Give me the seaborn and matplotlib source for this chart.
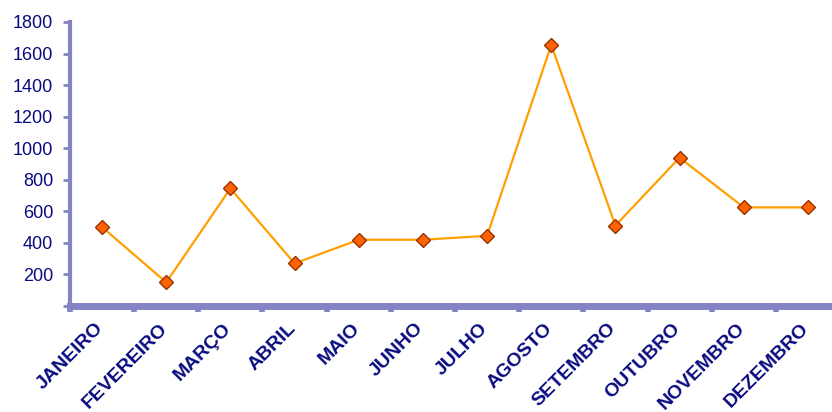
import matplotlib
matplotlib.use("Agg")
import matplotlib.pyplot as plt
import numpy as np
import pandas as pd
import seaborn as sns

MESES = ["JANEIRO", "FEVEREIRO", "MARÇO", "ABRIL", "MAIO", "JUNHO",
         "JULHO", "AGOSTO", "SETEMBRO", "OUTUBRO", "NOVEMBRO", "DEZEMBRO"]
VALORES = [500, 150, 745, 270, 420, 420, 445, 1655, 510, 940, 625, 625]
Y_TICKS = [0, 200, 400, 600, 800, 1000, 1200, 1400, 1600, 1800]

AXIS_COLOR = "#8484c4"
TEXT_COLOR = "#0a0a80"

sns.set_theme(style="white")
plt.rcParams["font.family"] = ["Liberation Sans", "DejaVu Sans"]

data = pd.DataFrame({"pos": np.arange(len(MESES)), "valor": VALORES})

fig = plt.figure(figsize=(8.32, 4.12), dpi=100)
ax = fig.add_axes([70 / 832, 106 / 412, 770 / 832, 284 / 412])

sns.lineplot(
    data=data, x="pos", y="valor", ax=ax,
    color="#ffa000", linewidth=1.6,
    marker="D", markersize=7.5,
    markerfacecolor="#ff6200", markeredgecolor="#993300", markeredgewidth=1.0,
)

ax.set_xlim(-0.5, len(MESES) - 0.5)
ax.set_ylim(0, 1800)
ax.set_xlabel("")
ax.set_ylabel("")

# Y axis
ax.set_yticks(Y_TICKS)
ax.set_yticklabels([""] + [str(v) for v in Y_TICKS[1:]])
ax.tick_params(axis="y", direction="out", length=5, width=2, color=AXIS_COLOR,
               labelcolor=TEXT_COLOR, labelsize=13, pad=7, left=True)

# X axis: ticks at category boundaries, labels at centres
ax.set_xticks(np.arange(-0.5, len(MESES) + 0.5, 1.0))
ax.set_xticklabels([])
ax.set_xticks(np.arange(len(MESES)) - 0.12, minor=True)
ax.set_xticklabels(MESES, minor=True, rotation=45, ha="right",
                   rotation_mode="anchor", fontweight="bold")
ax.tick_params(axis="x", which="major", direction="out", length=4, width=4,
               color=AXIS_COLOR, bottom=True)
ax.tick_params(axis="x", which="minor", length=0, labelcolor=TEXT_COLOR,
               labelsize=14, pad=10)

for side in ["top", "right"]:
    ax.spines[side].set_visible(False)
ax.spines["left"].set_color(AXIS_COLOR)
ax.spines["left"].set_linewidth(3)
ax.spines["bottom"].set_color(AXIS_COLOR)
ax.spines["bottom"].set_linewidth(5)

ax.grid(False)
fig.savefig("out.png", dpi=100, facecolor="white")
plt.close(fig)
